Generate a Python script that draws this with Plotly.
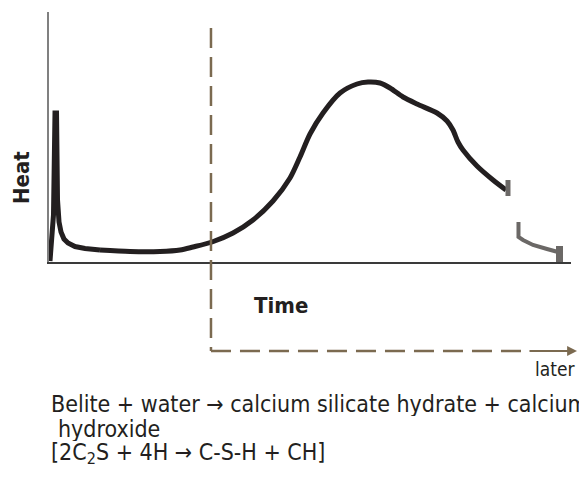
import plotly.graph_objects as go

# Heat-evolution curve for belite hydration (arbitrary time / heat units, 0-100)
spike_time = [0.19, 0.86, 1.15, 1.44, 1.63, 1.92, 2.30, 2.87, 3.64, 4.98, 6.90, 9.77]
spike_heat = [0.4, 18.8, 59.6, 59.6, 24.8, 16.0, 12.0, 9.2, 7.6, 6.2, 5.4, 4.8]

main_time = [9.77, 15.52, 21.26, 25.10, 27.59, 31.23, 35.25, 39.08, 42.91, 46.17,
             48.08, 50.00, 52.49, 55.75, 59.00, 61.11, 63.41, 65.33, 67.82, 70.50,
             74.33, 76.25, 77.39, 78.35, 79.31, 81.99, 85.06, 87.55]
main_heat = [4.8, 4.2, 4.2, 4.8, 6.0, 8.0, 11.6, 16.8, 24.4, 33.6,
             42.0, 51.2, 59.6, 67.6, 71.2, 72.0, 71.6, 69.6, 66.0, 63.2,
             59.6, 56.4, 52.8, 48.0, 44.8, 38.4, 32.8, 28.8]

# Break marks and the much later tail of the curve
break_time = [87.93, 87.93]
break_heat = [32.8, 26.4]
late_time = [89.94, 89.94, 90.80, 92.72, 95.40, 97.51]
late_heat = [16.0, 10.0, 8.8, 6.8, 5.2, 4.0]
end_time = [97.80, 97.80]
end_heat = [6.4, 0.0]

# Onset of the belite reaction and the "later" time arrow
phase_start = 31.03
phase_top = 93.6
time_arrow_level = -35.6
dash_end = 91.76
arrow_tip = 101.15

X_RANGE = [0, 100]
Y_RANGE = [0, 100]
PLOT_WIDTH_PX = 522


def px(t):
    return (t - X_RANGE[0]) / (X_RANGE[1] - X_RANGE[0])


def py(h):
    return (h - Y_RANGE[0]) / (Y_RANGE[1] - Y_RANGE[0])


CURVE = "#231f20"
GREY = "#6b6866"
BROWN = "#7b6a50"
FONT = "Liberation Sans Narrow, DejaVu Sans Condensed, Arial Narrow, sans-serif"

fig = go.Figure()
fig.add_trace(go.Scatter(x=spike_time, y=spike_heat, mode="lines",
                         line=dict(color=CURVE, width=5)))
fig.add_trace(go.Scatter(x=main_time, y=main_heat, mode="lines",
                         line=dict(color=CURVE, width=5, shape="spline", smoothing=0.8)))
fig.add_trace(go.Scatter(x=break_time, y=break_heat, mode="lines",
                         line=dict(color=GREY, width=5)))
fig.add_trace(go.Scatter(x=late_time, y=late_heat, mode="lines",
                         line=dict(color=GREY, width=4)))
fig.add_trace(go.Scatter(x=end_time, y=end_heat, mode="lines",
                         line=dict(color=GREY, width=7)))

dash_style = dict(color=BROWN, width=2.5, dash="20px,9px")
fig.add_shape(type="line", xref="paper", yref="paper",
              x0=px(phase_start), x1=px(phase_start),
              y0=py(phase_top), y1=py(time_arrow_level), line=dash_style)
fig.add_shape(type="line", xref="paper", yref="paper",
              x0=px(phase_start), x1=px(dash_end),
              y0=py(time_arrow_level), y1=py(time_arrow_level), line=dash_style)

# Solid arrow continuing the time axis towards "later"
fig.add_annotation(xref="paper", yref="paper", x=px(arrow_tip), y=py(time_arrow_level),
                   ax=-(px(arrow_tip) - px(dash_end)) * PLOT_WIDTH_PX, ay=0,
                   axref="pixel", ayref="pixel",
                   showarrow=True, arrowhead=2, arrowsize=0.9, arrowwidth=2.2,
                   arrowcolor=BROWN, text="")

fig.add_annotation(xref="paper", yref="paper", x=px(arrow_tip), y=-0.428,
                   xanchor="right", yanchor="middle", showarrow=False,
                   text="later", font=dict(family=FONT, size=19, color="#231f20"))
fig.add_annotation(xref="paper", yref="paper", x=-0.0517, y=0.336,
                   xanchor="center", yanchor="middle", showarrow=False, textangle=-90,
                   text="<b>Heat</b>", font=dict(family=FONT, size=22, color="#231f20"))
fig.add_annotation(xref="paper", yref="paper", x=0.444, y=-0.172,
                   xanchor="center", yanchor="middle", showarrow=False,
                   text="<b>Time</b>", font=dict(family=FONT, size=22, color="#231f20"))

# Reaction caption below the chart, set tightly line under line
caption = [
    ("Belite + water \u2192 calcium silicate hydrate + calcium", 0.0, -0.564),
    ("hydroxide", 0.014, -0.664),
    ("[2C<sub>2</sub>S + 4H \u2192 C-S-H + CH]", 0.0, -0.764),
]
for text, x, y in caption:
    fig.add_annotation(xref="paper", yref="paper", x=x, y=y, height=25,
                       xanchor="left", yanchor="middle", valign="middle", showarrow=False,
                       text=text, font=dict(family=FONT, size=23, color="#231f20"))

fig.update_xaxes(range=X_RANGE, showline=True, linecolor="#3a3a3a", linewidth=1.5,
                 showgrid=False, zeroline=False, showticklabels=False, ticks="")
fig.update_yaxes(range=Y_RANGE, showline=True, linecolor="#808080", linewidth=1.5,
                 showgrid=False, zeroline=False, showticklabels=False, ticks="")

fig.update_layout(width=579, height=479, showlegend=False,
                  margin=dict(l=49, r=8, t=12, b=217),
                  paper_bgcolor="white", plot_bgcolor="white")

fig.write_html("out.html")
